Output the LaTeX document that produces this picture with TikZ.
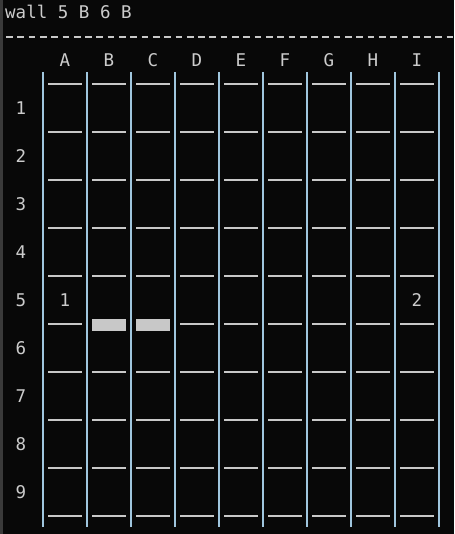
\documentclass[tikz,border=0pt]{standalone}
\usepackage{fontspec}
\setmonofont{DejaVu Sans Mono}
\usepackage{xcolor}
\definecolor{term}{RGB}{8, 8, 8}
\definecolor{edge}{RGB}{58, 58, 58}
\definecolor{txt}{RGB}{204, 204, 204}
\definecolor{post}{RGB}{160, 198, 222}
\definecolor{seg}{RGB}{200, 200, 200}

\begin{document}
\begin{tikzpicture}[x=1pt, y=-1pt,
    tag/.style={text=txt, font=\ttfamily\fontsize{17.5}{20}\selectfont, inner sep=0pt},
    post/.style={draw=post, line width=2pt},
    segment/.style={draw=seg, line width=2pt},
    wall/.style={fill=seg, draw=none}
]

        % terminal background
        \fill[term] (0,0) rectangle (454,534);
        \useasboundingbox (0,0) rectangle (454,534);
        \fill[edge] (0,0) rectangle (3,534);

        % command line
        \node (cmd) [tag, anchor=base west] at (5,19) {wall 5 B 6 B};
        \draw[draw=seg, line width=2pt, dash pattern=on 6.7pt off 4.6pt] (6,37) -- (454,37);

        % column letters
        \foreach \c [count=\k from 0] in {A,B,C,D,E,F,G,H,I}
            \node (col\c) [tag] at (65+44*\k,60) {\c};

        % row numbers
        \foreach \r in {1,...,9}
            \node (row\r) [tag] at (21,60+48*\r) {\r};

        % posts between the columns
        \foreach \k in {0,...,9}
            \draw[post] (43+44*\k,72) -- (43+44*\k,527);

        % cell edges
        \foreach \j in {0,...,9}
            \foreach \k in {0,...,8}{
                \ifnum\j=5 \ifnum\k>0 \ifnum\k<3 \else
                    \draw[segment] (48+44*\k,84+48*\j) -- (82+44*\k,84+48*\j);
                \fi \else
                    \draw[segment] (48+44*\k,84+48*\j) -- (82+44*\k,84+48*\j);
                \fi \else
                    \draw[segment] (48+44*\k,84+48*\j) -- (82+44*\k,84+48*\j);
                \fi
            }

        % placed wall
        \fill[wall] (92,319) rectangle (126,331);
        \fill[wall] (136,319) rectangle (170,331);

        % players
        \node (p1) [tag] at (65,300) {1};
        \node (p2) [tag] at (417,300) {2};

\end{tikzpicture}
\end{document}
